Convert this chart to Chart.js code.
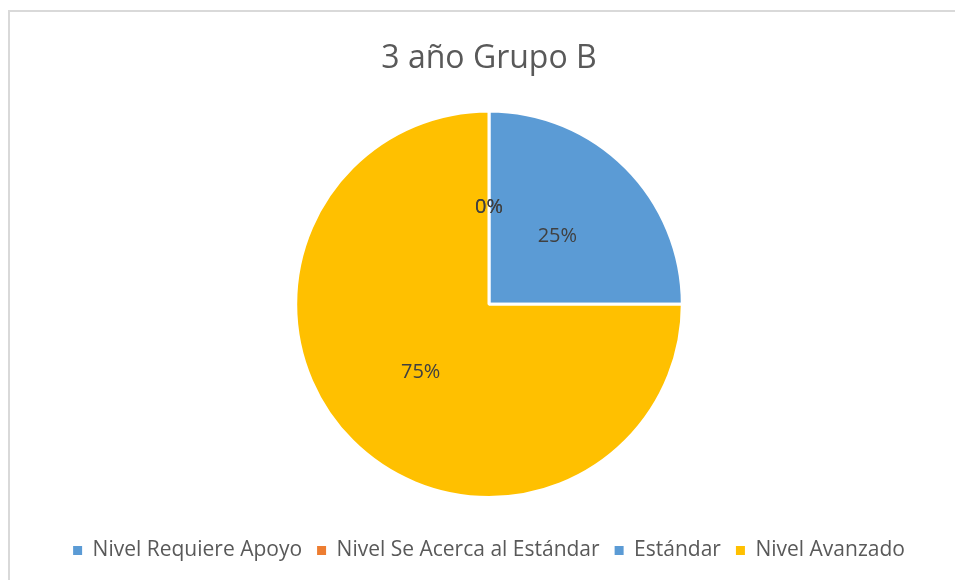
<!DOCTYPE html>
<html>
<head>
<meta charset="utf-8">
<script src="https://cdn.jsdelivr.net/npm/chart.js@4/dist/chart.umd.min.js"></script>
<style>
  body { margin: 0; background: #fff; }
  #wrap { position: relative; width: 955px; height: 580px; overflow: hidden; }
  #frame { position: absolute; left: 8px; top: 10px; width: 1000px; height: 1000px; border: 2px solid #d9d9d9; }
  #box { position: absolute; left: 0; top: 0; width: 955px; height: 580px; }
</style>
</head>
<body>
<div id="wrap">
  <div id="frame"></div>
  <div id="box"><canvas id="pieChart"></canvas></div>
</div>
<script>
const categories = ['Nivel Requiere Apoyo', 'Nivel Se Acerca al Estándar', 'Estándar', 'Nivel Avanzado'];
const percentValues = [0, 0, 25, 75];
const sliceColors = ['#5B9BD5', '#ED7D31', '#5B9BD5', '#FFC000'];

const pieCtx = document.querySelector('#pieChart').getContext('2d');

// draws the "NN%" text at each slice's middle point
const sliceLabels = {
    id: 'sliceLabels',
    afterDatasetsDraw(chart) {
        const ctx = chart.ctx;
        const meta = chart.getDatasetMeta(0);
        ctx.save();
        ctx.font = '20px "Open Sans"';
        ctx.fillStyle = '#404040';
        ctx.textAlign = 'center';
        ctx.textBaseline = 'middle';
        meta.data.forEach((arc, i) => {
            const pos = arc.tooltipPosition();
            ctx.fillText(percentValues[i] + '%', pos.x, pos.y);
        });
        ctx.restore();
    }
};

let pieChart = new Chart(pieCtx, {
    type: 'pie',
    data: {
        labels: categories,
        datasets: [{
            data: percentValues,
            backgroundColor: sliceColors,
            borderColor: '#ffffff',
            borderWidth: 3
        }]
    },
    options: {
        responsive: true,
        maintainAspectRatio: false,
        animation: false,
        layout: {
            padding: { left: 23, right: 0, top: 0, bottom: 9 }
        },
        plugins: {
            title: {
                display: true,
                text: '3 año Grupo B',
                color: '#595959',
                font: { family: 'Open Sans', size: 32, weight: 'normal' },
                padding: { top: 40, bottom: 31 }
            },
            legend: {
                position: 'bottom',
                // empty legend title, only used as spacing above the items
                title: { display: true, text: ' ', font: { size: 10 }, padding: 7 },
                labels: {
                    color: '#595959',
                    font: { family: 'Open Sans', size: 21 },
                    boxWidth: 9,
                    boxHeight: 9,
                    padding: 15,
                    generateLabels(chart) {
                        return Chart.overrides.pie.plugins.legend.labels.generateLabels(chart)
                            .map(l => Object.assign(l, { lineWidth: 0, strokeStyle: l.fillStyle }));
                    }
                }
            },
            tooltip: { enabled: false }
        }
    },
    plugins: [sliceLabels]
});
</script>
</body>
</html>
